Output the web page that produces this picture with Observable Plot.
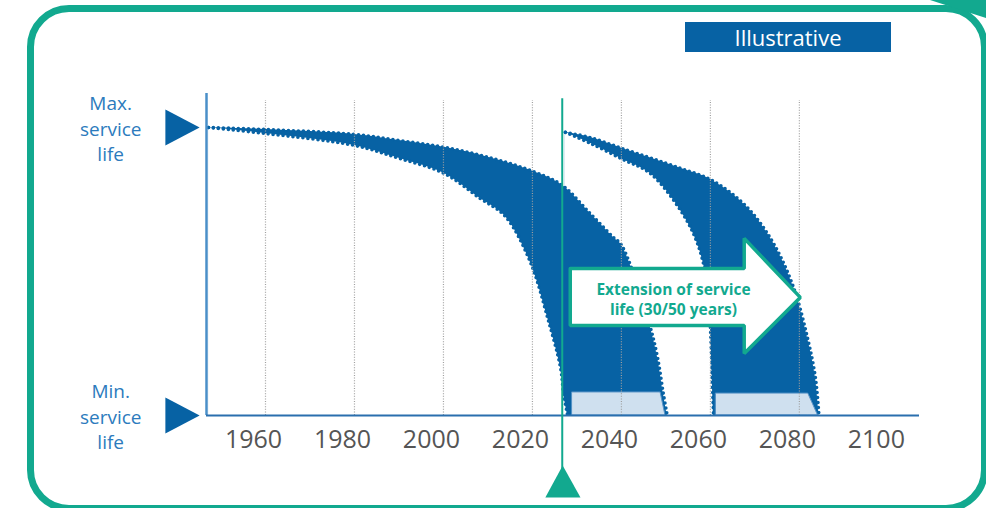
<!DOCTYPE html>
<html><head><meta charset="utf-8">
<script src="https://cdn.jsdelivr.net/npm/d3@7"></script>
<script src="https://cdn.jsdelivr.net/npm/@observablehq/plot@0.6"></script>
<style>
body{margin:0;background:#fff;font-family:"Open Sans",sans-serif;}
#wrap{position:relative;width:986px;height:508px;overflow:hidden;background:#fff;}
#frame{position:absolute;left:27px;top:5px;width:947px;height:493px;border:7.5px solid #12a98f;border-radius:42px;box-sizing:content-box;}
#tag{position:absolute;left:685px;top:22px;width:206px;height:30px;background:#0762a4;color:#fff;font:22px "Open Sans",sans-serif;line-height:30px;text-align:center;}
#chart{position:absolute;left:0;top:0;}
#corner{position:absolute;left:0;top:0;}
</style></head>
<body>
<div id="wrap">
  <div id="frame"></div>
  <svg id="corner" width="986" height="508"><polygon points="930,0 986,0 986,18" fill="#12a98f"/></svg>
  <div id="tag">Illustrative</div>
  <div id="chart"></div>
</div>
<script>
// ---- data (x = year, y = service life: 0 = min, 1 = max) ----
const tickYears = [1960, 1980, 2000, 2020, 2040, 2060, 2080, 2100];
const gridYears = [1960, 1980, 2000, 2020, 2040, 2060, 2080];
const band1Upper = [[1947.2,1.0],[1960,0.993],[1980,0.976],[1990,0.955],[2000.2,0.931],[2010,0.897],[2020.2,0.847],[2026.7,0.799],[2033,0.701],[2038.2,0.618],[2040,0.592],[2046.2,0.322],[2048.1,0.203],[2049.4,0.078],[2050.3,0]];
const band1Lower = [[1947.2,1.0],[1960,0.979],[1980,0.9375],[1990,0.893],[2000.2,0.84],[2008.3,0.753],[2013,0.705],[2015.7,0.653],[2020,0.514],[2023.4,0.34],[2026.3,0.167],[2027,0.076],[2027.9,0]];
const band2Upper = [[2027.4,0.983],[2033,0.965],[2040.2,0.927],[2053.3,0.858],[2060.4,0.816],[2068.3,0.722],[2074.2,0.597],[2078.7,0.444],[2081.8,0.271],[2083.6,0.132],[2084.4,0]];
const band2Lower = [[2027.4,0.983],[2033,0.945],[2040.2,0.89],[2046.5,0.84],[2053.3,0.712],[2057.1,0.597],[2059.3,0.458],[2060,0.306],[2060.4,0.132],[2060.7,0]];
const minLife1 = [[2029,0.08],[2048.8,0.08],[2049.9,0]];
const minLife2 = [[2061.3,0.076],[2082,0.076],[2084.2,0]];
const todayYear = 2026.7;
const arrowText = "Extension of service\nlife (30/50 years)";
const maxLabel = "Max.\nservice\nlife";
const minLabel = "Min.\nservice\nlife";

// ---- layout / annotation shapes (in data units) ----
const xMin = 1946.74, xMax = 2107.0;
const arrowShape = [[2028.5,0.510],[2067.6,0.510],[2067.6,0.615],[2080.2,0.41],[2067.6,0.215],[2067.6,0.3125],[2028.5,0.3125],[2028.5,0.510]];
const maxMarker = [[1937.5,1.0625],[1945.2,1.0],[1937.5,0.9375]];
const minMarker = [[1937.5,0.0625],[1945.2,0.0],[1937.5,-0.0625]];
const todayMarker = [[2022.9,-0.285],[2030.8,-0.285],[2026.8,-0.174]];

const blue = "#0762a4", teal = "#12a98f";
const X = d => d[0], Y = d => d[1];
const dotted = {x: X, y: Y, stroke: blue, strokeWidth: 3.6, strokeDasharray: "0 5", strokeLinecap: "round", curve: "catmull-rom"};

const chart = Plot.plot({
  width: 986, height: 508,
  marginLeft: 206, marginRight: 67, marginTop: 95, marginBottom: 93,
  x: {domain: [xMin, xMax], axis: null},
  y: {domain: [0, 1.111], axis: null},
  style: {fontFamily: "Open Sans", background: "transparent", overflow: "visible"},
  marks: [
    Plot.areaY(band2Upper, {x: X, y: Y, fill: blue, curve: "catmull-rom"}),
    Plot.areaY(band2Lower, {x: X, y: Y, fill: "white", curve: "catmull-rom"}),
    Plot.areaY(band1Upper, {x: X, y: Y, fill: blue, curve: "catmull-rom"}),
    Plot.areaY(band1Lower, {x: X, y: Y, fill: "white", curve: "catmull-rom"}),
    Plot.line(band1Upper, dotted),
    Plot.line(band1Lower, dotted),
    Plot.line(band2Upper, dotted),
    Plot.line(band2Lower, dotted),
    Plot.areaY(minLife1, {x: X, y: Y, fill: "#cfe0ef", stroke: "#5a95c8", strokeWidth: 1}),
    Plot.areaY(minLife2, {x: X, y: Y, fill: "#cfe0ef", stroke: "#5a95c8", strokeWidth: 1}),
    Plot.ruleX(gridYears, {y1: 0, y2: 1.094, stroke: "#a0a0a0", strokeWidth: 1.2, strokeDasharray: "1 1.6"}),
    Plot.ruleX([xMin], {y1: 0, y2: 1.118, stroke: "#4a8fc8", strokeWidth: 2.5}),
    Plot.ruleY([0], {x1: xMin, x2: xMax, stroke: "#2a6fae", strokeWidth: 2}),
    Plot.axisX({ticks: tickYears, tickSize: 0, tickPadding: 15, fontSize: 25, color: "#555", dx: -12, tickFormat: d => String(d), label: null}),
    Plot.ruleX([todayYear], {y1: -0.2, y2: 1.10, stroke: teal, strokeWidth: 2}),
    Plot.line(todayMarker, {x: X, y: Y, fill: teal, stroke: null}),
    Plot.line(arrowShape, {x: X, y: Y, fill: "white", stroke: teal, strokeWidth: 3.5, strokeLinejoin: "miter"}),
    Plot.text([arrowText], {x: 2051.7, y: 0.406, text: d => d, fill: teal, fontSize: 15.5, fontWeight: "bold", lineHeight: 1.3}),
    Plot.line(maxMarker, {x: X, y: Y, fill: blue, stroke: null}),
    Plot.line(minMarker, {x: X, y: Y, fill: blue, stroke: null}),
    Plot.text([maxLabel], {x: 1925.2, y: 1.0, text: d => d, fill: "#2c7bbd", fontSize: 19, lineHeight: 1.32}),
    Plot.text([minLabel], {x: 1925.2, y: 0.0, text: d => d, fill: "#2c7bbd", fontSize: 19, lineHeight: 1.32})
  ]
});
document.getElementById("chart").appendChild(chart);
</script>
</body></html>
